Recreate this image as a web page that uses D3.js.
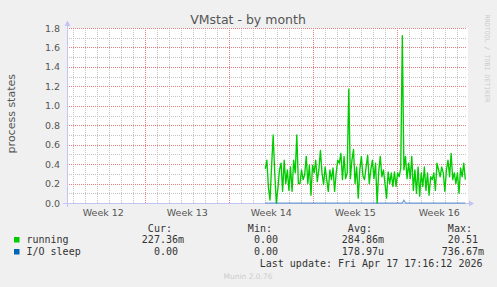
<!DOCTYPE html>
<html>
<head>
<meta charset="utf-8">
<script src="https://cdn.jsdelivr.net/npm/d3@7"></script>
<style>
  html, body { margin: 0; padding: 0; background: #f0f0f0; }
  svg { display: block; }
  .mono { font-family: "DejaVu Sans Mono", monospace; }
  .sans { font-family: "DejaVu Sans", sans-serif; }
</style>
</head>
<body>
<div id="chart"></div>
<script>
// ---- data ----
const title = "VMstat - by month";
const yLabel = "process states";
const weekStarts = ["2026-03-16", "2026-03-23", "2026-03-30", "2026-04-06", "2026-04-13"];
const weekLabels = ["Week 12", "Week 13", "Week 14", "Week 15", "Week 16"];
const yTicks = [0, 0.2, 0.4, 0.6, 0.8, 1.0, 1.2, 1.4, 1.6, 1.8];
const timeDomain = ["2026-03-16T11:24:00Z", "2026-04-18T19:24:00Z"];
const dataStart = "2026-04-02T00:00:00Z";
const stepHours = 3.15;

const running = [
  0.35, 0.44, 0.16, 0.03, 0.38, 0.70, 0.31, 0.00, 0.15, 0.34,
  0.41, 0.12, 0.44, 0.20, 0.34, 0.13, 0.37, 0.12, 0.44, 0.31,
  0.70, 0.20, 0.20, 0.34, 0.24, 0.29, 0.48, 0.20, 0.39, 0.08,
  0.39, 0.31, 0.44, 0.22, 0.34, 0.54, 0.31, 0.19, 0.37, 0.24,
  0.12, 0.34, 0.24, 0.36, 0.12, 0.31, 0.44, 0.41, 0.51, 0.24,
  0.48, 0.25, 0.31, 1.17, 0.25, 0.44, 0.55, 0.20, 0.37, 0.05,
  0.34, 0.48, 0.28, 0.24, 0.37, 0.49, 0.20, 0.34, 0.44, 0.25,
  0.41, 0.00, 0.32, 0.48, 0.27, 0.34, 0.20, 0.05, 0.32, 0.20,
  0.31, 0.17, 0.32, 0.17, 0.31, 0.27, 0.36, 1.72, 0.34, 0.48,
  0.25, 0.41, 0.25, 0.48, 0.13, 0.34, 0.10, 0.37, 0.07, 0.31,
  0.17, 0.37, 0.13, 0.31, 0.08, 0.27, 0.24, 0.31, 0.13, 0.41,
  0.34, 0.27, 0.37, 0.31, 0.12, 0.34, 0.44, 0.27, 0.51, 0.24,
  0.31, 0.20, 0.31, 0.10, 0.36, 0.27, 0.41, 0.24
];
const ioSleep = [
  0, 0, 0, 0, 0, 0, 0, 0, 0, 0, 0, 0, 0, 0, 0, 0,
  0, 0, 0, 0, 0, 0, 0, 0, 0, 0, 0, 0, 0, 0, 0, 0,
  0, 0, 0, 0, 0, 0, 0, 0, 0, 0, 0, 0, 0, 0, 0, 0,
  0, 0, 0, 0, 0, 0, 0, 0, 0, 0, 0, 0, 0, 0, 0, 0,
  0, 0, 0, 0, 0, 0, 0, 0, 0, 0, 0, 0, 0, 0, 0, 0,
  0, 0, 0, 0, 0, 0, 0, 0, 0.03, 0, 0, 0, 0, 0, 0, 0,
  0, 0, 0, 0, 0, 0, 0, 0, 0, 0, 0, 0, 0, 0, 0, 0,
  0, 0, 0, 0, 0, 0, 0, 0, 0, 0, 0, 0, 0, 0, 0, 0
];

const seriesNames = ["running", "I/O sleep"];
const seriesColors = ["#00cc00", "#0066b3"];
const legendHeaders = ["Cur:", "Min:", "Avg:", "Max:"];
const runningStats = ["227.36m", "0.00", "284.86m", "20.51"];
const ioStats = ["0.00", "0.00", "178.97u", "736.67m"];
const lastUpdate = "Last update: Fri Apr 17 17:16:12 2026";
const footer = "Munin 2.0.76";
const watermark = "RRDTOOL / TOBI OETIKER";

// ---- layout ----
const W = 497, H = 287;
const plot = { left: 67, right: 467, top: 28, bottom: 203 };
const axisColor = "#c4c4f4";
const charW = 6.02; // width of one mono char at 10px

const svg = d3.select("#chart").append("svg")
  .attr("width", W)
  .attr("height", H)
  .style("background", "#f0f0f0");

const x = d3.scaleUtc()
  .domain(timeDomain.map(d => new Date(d)))
  .range([plot.left, plot.right]);

const y = d3.scaleLinear()
  .domain([0, 1.8])
  .range([plot.bottom, plot.top]);

// plot background
svg.append("rect")
  .attr("x", plot.left)
  .attr("y", plot.top)
  .attr("width", plot.right - plot.left + 1)
  .attr("height", plot.bottom - plot.top)
  .attr("fill", "#ffffff");

const grid = svg.append("g").attr("shape-rendering", "crispEdges");

// minor grid: days and 0.1 steps
const days = d3.utcDay.range(x.domain()[0], x.domain()[1]);
grid.selectAll(".vminor")
  .data(days)
  .join("line")
  .attr("x1", d => Math.round(x(d)) + 0.5)
  .attr("x2", d => Math.round(x(d)) + 0.5)
  .attr("y1", plot.top)
  .attr("y2", plot.bottom)
  .attr("stroke", "#c4c4c4")
  .attr("stroke-dasharray", "1,1");

const minorY = d3.range(0.1, 1.8, 0.2);
grid.selectAll(".hminor")
  .data(minorY)
  .join("line")
  .attr("x1", plot.left)
  .attr("x2", plot.right)
  .attr("y1", d => Math.round(y(d)) + 0.5)
  .attr("y2", d => Math.round(y(d)) + 0.5)
  .attr("stroke", "#c4c4c4")
  .attr("stroke-dasharray", "1,1");

// major grid: week starts and labelled y ticks
const weekDates = weekStarts.map(d => new Date(d + "T00:00:00Z"));
grid.selectAll(".vmajor")
  .data(weekDates.filter(d => x(d) > plot.left && x(d) < plot.right))
  .join("line")
  .attr("x1", d => Math.round(x(d)) + 0.5)
  .attr("x2", d => Math.round(x(d)) + 0.5)
  .attr("y1", plot.top)
  .attr("y2", plot.bottom)
  .attr("stroke", "#e88080")
  .attr("stroke-dasharray", "1,1");

grid.selectAll(".hmajor")
  .data(yTicks.filter(d => d > 0))
  .join("line")
  .attr("x1", plot.left)
  .attr("x2", plot.right)
  .attr("y1", d => Math.round(y(d)) + 0.5)
  .attr("y2", d => Math.round(y(d)) + 0.5)
  .attr("stroke", "#e88080")
  .attr("stroke-dasharray", "1,1");

// y tick labels
svg.append("g").selectAll("text")
  .data(yTicks)
  .join("text")
  .attr("class", "sans")
  .attr("x", plot.left - 7)
  .attr("y", d => y(d) + 3.5)
  .attr("text-anchor", "end")
  .attr("font-size", "9.5px")
  .attr("fill", "#555")
  .text(d => d3.format(".1f")(d));

// week labels, centred in the week
svg.append("g").selectAll("text")
  .data(weekDates)
  .join("text")
  .attr("class", "sans")
  .attr("x", d => x(d3.utcHour.offset(d, 84)))
  .attr("y", 216)
  .attr("text-anchor", "middle")
  .attr("font-size", "9.5px")
  .attr("fill", "#555")
  .text((d, i) => weekLabels[i]);

// axes with arrows
const axes = svg.append("g");
axes.append("line")
  .attr("x1", plot.left - 4).attr("x2", plot.right + 2)
  .attr("y1", plot.bottom + 0.5).attr("y2", plot.bottom + 0.5)
  .attr("stroke", axisColor);
axes.append("line")
  .attr("x1", plot.left + 0.5).attr("x2", plot.left + 0.5)
  .attr("y1", plot.bottom + 4).attr("y2", plot.top - 3)
  .attr("stroke", axisColor);
axes.append("path")
  .attr("d", `M${plot.right + 2},${plot.bottom - 2.5}L${plot.right + 7},${plot.bottom + 0.5}L${plot.right + 2},${plot.bottom + 3.5}Z`)
  .attr("fill", axisColor);
axes.append("path")
  .attr("d", `M${plot.left - 2.5},${plot.top - 2}L${plot.left + 0.5},${plot.top - 7.5}L${plot.left + 3.5},${plot.top - 2}Z`)
  .attr("fill", axisColor);

// series
const t0 = new Date(dataStart);
const timeAt = i => new Date(t0.getTime() + i * stepHours * 3600 * 1000);

const line = d3.line()
  .x((d, i) => x(timeAt(i)))
  .y(d => y(d));

svg.append("path")
  .datum(running)
  .attr("d", line)
  .attr("fill", "none")
  .attr("stroke", seriesColors[0])
  .attr("stroke-width", 1.35)
  .attr("stroke-linejoin", "round");

svg.append("path")
  .datum(ioSleep)
  .attr("d", line)
  .attr("fill", "none")
  .attr("stroke", seriesColors[1])
  .attr("stroke-opacity", 0.6)
  .attr("stroke-width", 1.1);

// title and axis label
svg.append("text")
  .attr("class", "sans")
  .attr("x", 248)
  .attr("y", 24)
  .attr("text-anchor", "middle")
  .attr("font-size", "12.5px")
  .attr("fill", "#555")
  .text(title);

svg.append("text")
  .attr("class", "sans")
  .attr("transform", "translate(14.7,113.7) rotate(-90)")
  .attr("text-anchor", "middle")
  .attr("font-size", "11px")
  .attr("fill", "#555")
  .text(yLabel);

svg.append("text")
  .attr("class", "mono")
  .attr("transform", "translate(485,58.5) rotate(90)")
  .attr("text-anchor", "middle")
  .attr("font-size", "6.6px")
  .attr("fill", "#cccccc")
  .text(watermark);

// legend: values right-aligned, one char left for the unit suffix
const cols = [184, 284, 384, 484];
const legend = svg.append("g").attr("class", "mono").attr("font-size", "10px").attr("fill", "#333");
const endX = (d, i) => cols[i] - (/[a-z]$/i.test(d) ? 0 : charW);

legend.selectAll(".hdr")
  .data(legendHeaders)
  .join("text")
  .attr("x", (d, i) => cols[i] - 2 * charW)
  .attr("y", 231.5)
  .attr("text-anchor", "end")
  .text(d => d);

const rows = [runningStats, ioStats];
const rowY = [242.5, 254.5];
rows.forEach((stats, r) => {
  legend.append("rect")
    .attr("x", 14)
    .attr("y", rowY[r] - 5.5)
    .attr("width", 5.5)
    .attr("height", 5.5)
    .attr("fill", seriesColors[r]);
  legend.append("text")
    .attr("x", 26.5)
    .attr("y", rowY[r])
    .text(seriesNames[r]);
  legend.selectAll(".v" + r)
    .data(stats)
    .join("text")
    .attr("x", endX)
    .attr("y", rowY[r])
    .attr("text-anchor", "end")
    .text(d => d);
});

legend.append("text")
  .attr("x", 482.5)
  .attr("y", 267)
  .attr("text-anchor", "end")
  .text(lastUpdate);

svg.append("text")
  .attr("class", "sans")
  .attr("x", 248)
  .attr("y", 279)
  .attr("text-anchor", "middle")
  .attr("font-size", "7.5px")
  .attr("fill", "#cccccc")
  .text(footer);
</script>
</body>
</html>
